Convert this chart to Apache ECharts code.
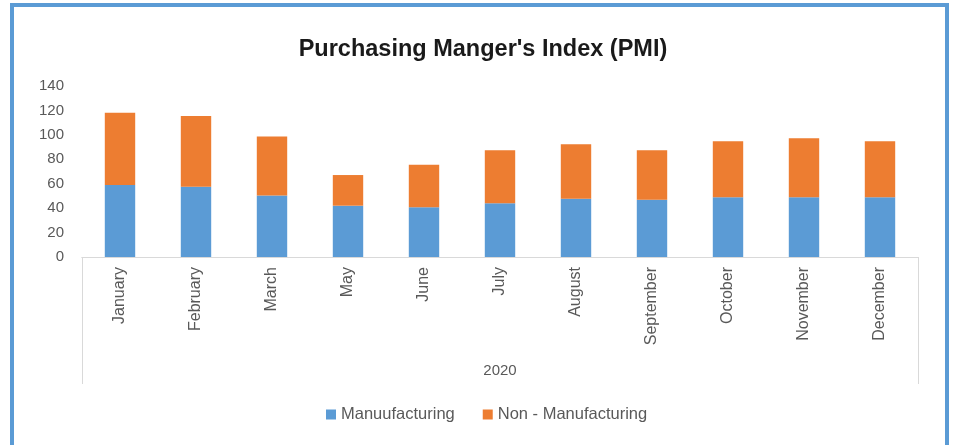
<!DOCTYPE html>
<html>
<head>
<meta charset="utf-8">
<script src="https://cdn.jsdelivr.net/npm/echarts@6/dist/echarts.min.js"></script>
<style>
  html, body { margin: 0; padding: 0; background: #fff; }
  #wrap { position: relative; width: 954px; height: 445px; overflow: hidden; }
  #chart { position: absolute; left: 0; top: 0; width: 954px; height: 445px; }
  #frame {
    position: absolute; left: 10px; top: 3px; width: 939px; height: 480px;
    border: 4px solid #5b9bd5; box-sizing: border-box; pointer-events: none;
  }
</style>
</head>
<body>
<div id="wrap">
  <div id="chart"></div>
  <div id="frame"></div>
</div>
<script>
const months = ['January', 'February', 'March', 'May', 'June', 'July', 'August', 'September', 'October', 'November', 'December'];
const manufacturing = [59, 57.5, 50.3, 42, 40.8, 44.1, 47.6, 46.8, 49, 49, 49];
const nonManufacturing = [59, 57.9, 48.3, 25.1, 34.7, 43.4, 44.8, 40.7, 45.8, 48.3, 45.8];
const yearGroup = ['2020'];

const textColor = '#595959';
const lineColor = '#d9d9d9';
const font = '"Liberation Sans", Arial, sans-serif';

const myChart = echarts.init(document.getElementById('chart'));

const option = {
  animation: false,
  title: {
    text: "Purchasing Manger's Index (PMI)",
    left: 478,
    textAlign: 'center',
    top: 33,
    textStyle: {
      fontFamily: font,
      fontWeight: 'bold',
      fontSize: 23.5,
      color: '#1a1a1a'
    }
  },
  legend: {
    data: ['Manuufacturing', 'Non - Manufacturing'],
    left: 321,
    top: 401,
    icon: 'rect',
    itemWidth: 10,
    itemHeight: 10,
    itemGap: 28,
    textStyle: { color: textColor, fontSize: 16.5, fontFamily: font }
  },
  grid: { left: 82, right: 36, top: 86, bottom: 188 },
  xAxis: [
    {
      type: 'category',
      data: months,
      axisLine: { lineStyle: { color: lineColor } },
      axisTick: { show: false },
      axisLabel: {
        rotate: 90,
        margin: 10,
        color: textColor,
        fontSize: 16,
        fontFamily: font,
        interval: 0
      }
    },
    {
      type: 'category',
      data: yearGroup,
      position: 'bottom',
      axisLine: { lineStyle: { color: lineColor } },
      axisTick: { show: true, length: 127, lineStyle: { color: lineColor } },
      axisLabel: { margin: 106, color: textColor, fontSize: 15, fontFamily: font }
    }
  ],
  yAxis: {
    type: 'value',
    min: 0,
    max: 140,
    interval: 20,
    axisLine: { show: false },
    axisTick: { show: false },
    splitLine: { show: false },
    axisLabel: { margin: 18, color: textColor, fontSize: 15, fontFamily: font }
  },
  series: [
    {
      name: 'Manuufacturing',
      type: 'bar',
      stack: 'pmi',
      data: manufacturing,
      barWidth: '40%',
      itemStyle: { color: '#5b9bd5' }
    },
    {
      name: 'Non - Manufacturing',
      type: 'bar',
      stack: 'pmi',
      data: nonManufacturing,
      barWidth: '40%',
      itemStyle: { color: '#ed7d31' }
    }
  ]
};

myChart.setOption(option);
</script>
</body>
</html>
